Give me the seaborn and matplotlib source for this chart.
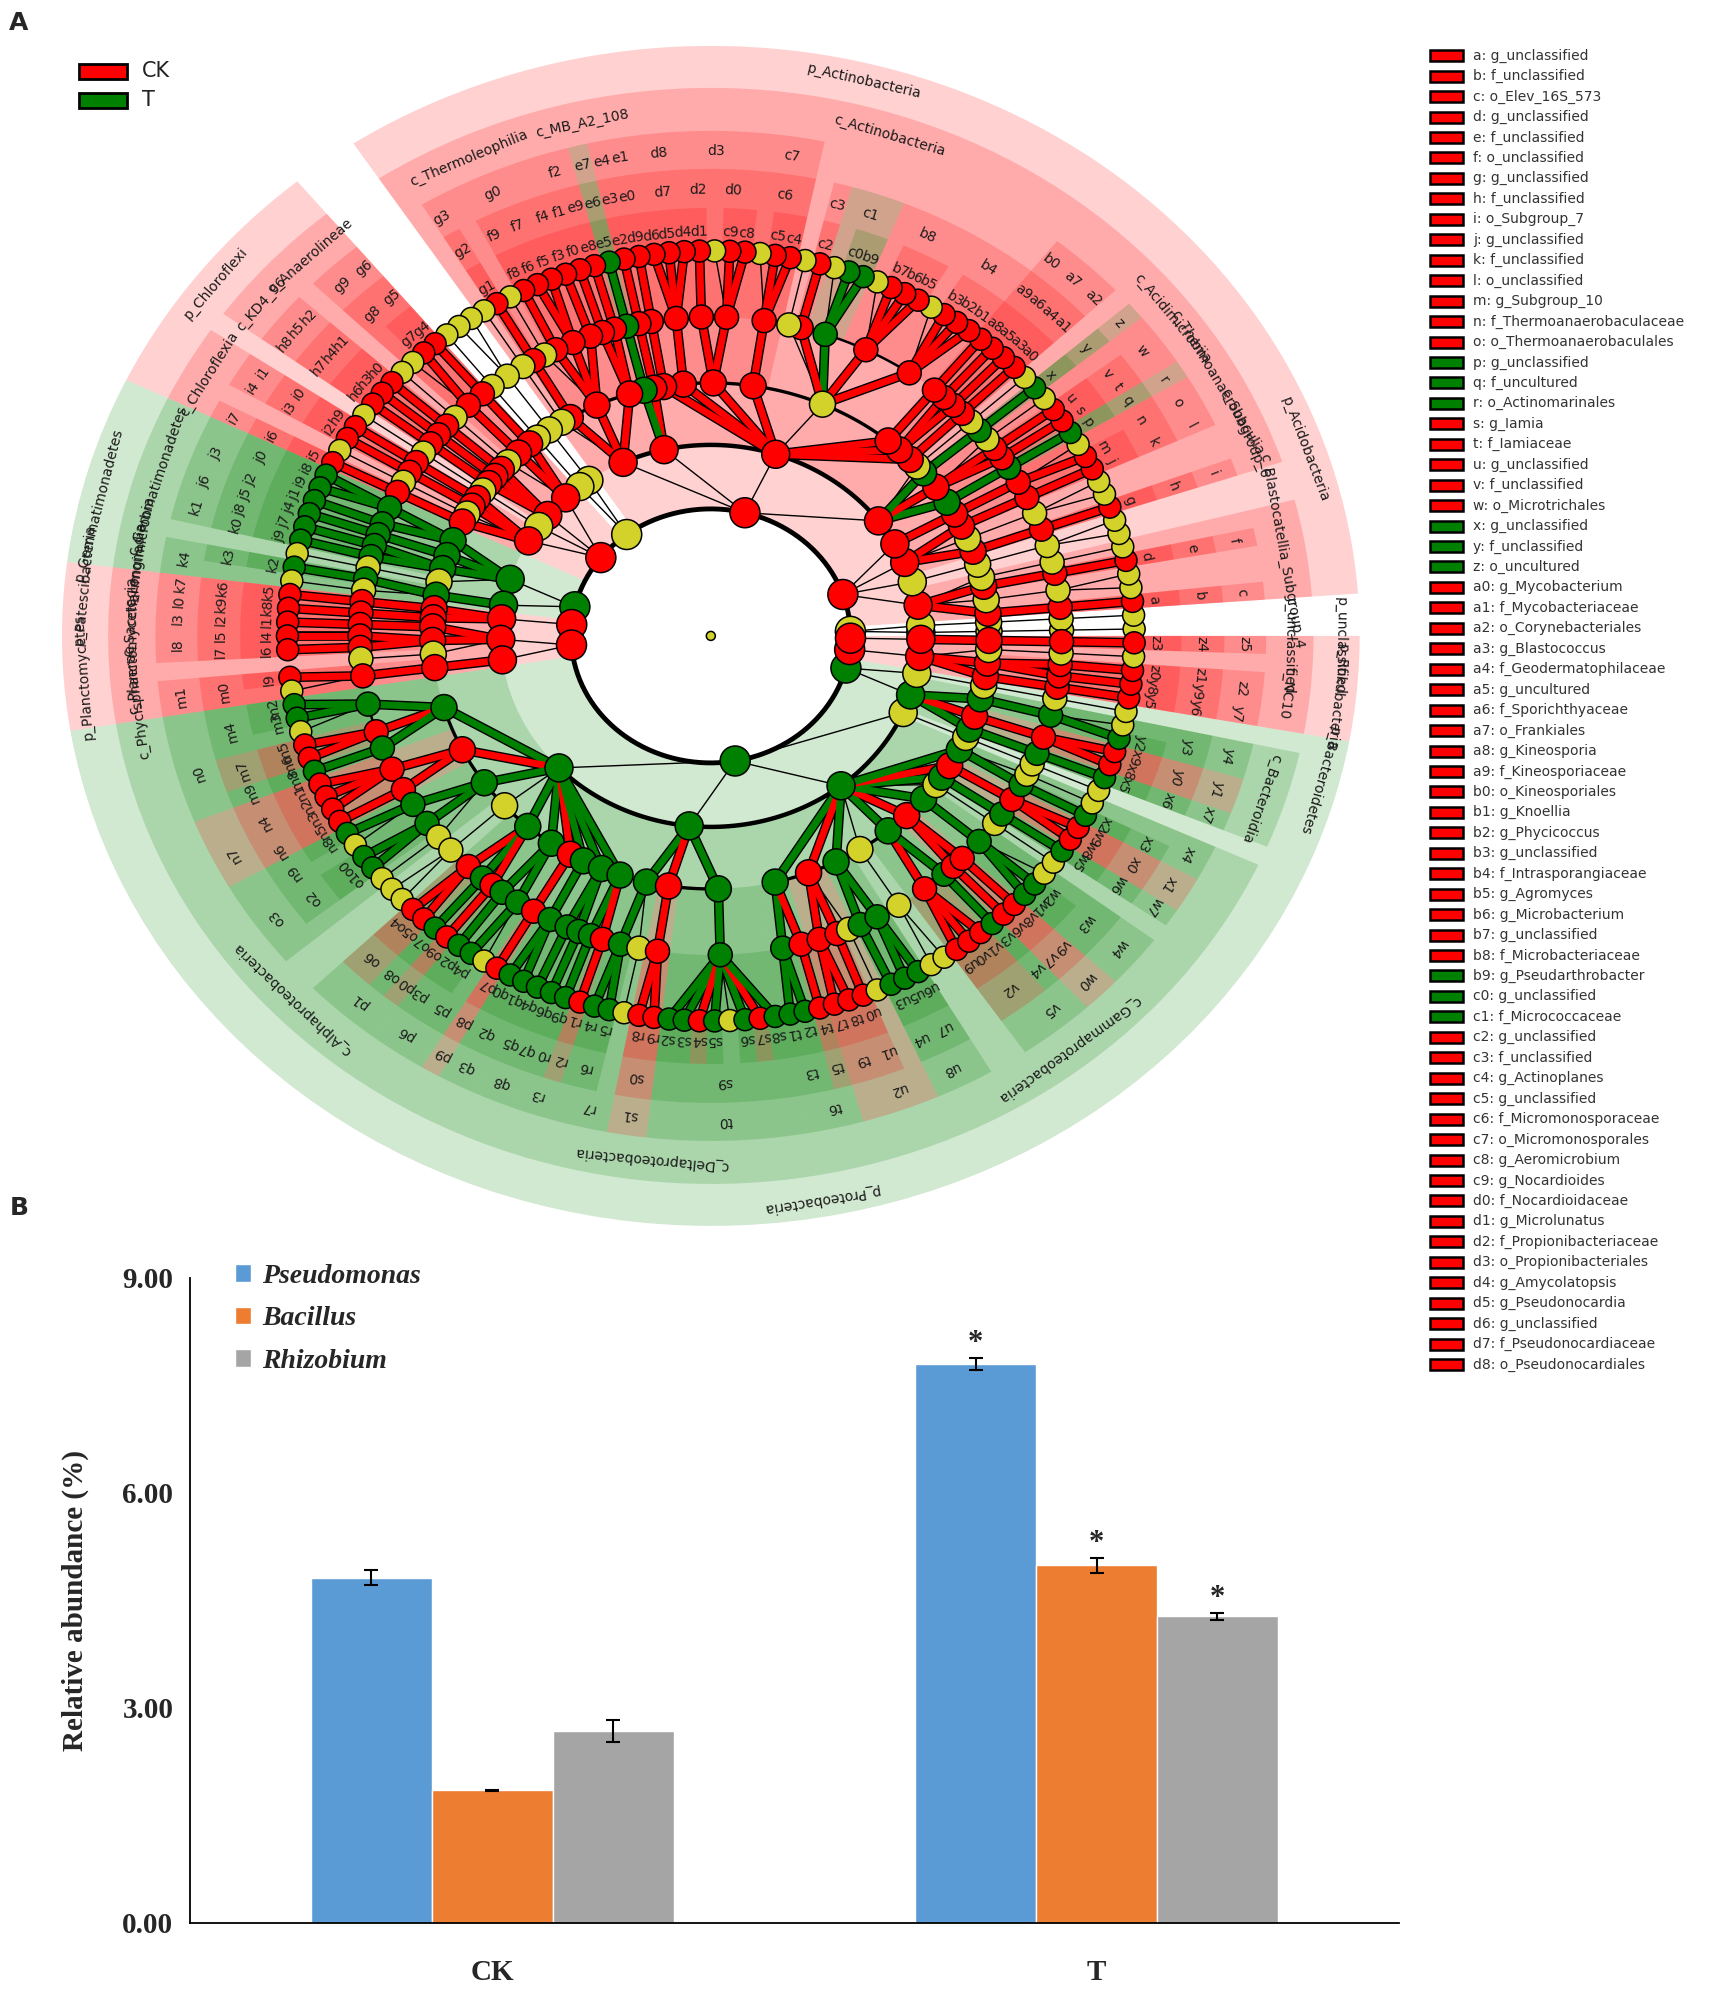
import re
import string
import numpy as np
import pandas as pd
import matplotlib
matplotlib.use("Agg")
import matplotlib.pyplot as plt
import matplotlib.patheffects as pe
from matplotlib.patches import Wedge, Rectangle, Patch
from matplotlib.collections import LineCollection
import seaborn as sns

# ---------------- panel A: LEfSe cladogram, one string per phylum ----------------
# R = enriched in CK, G = enriched in T, Y = not significant.  "S:name( children )"
P_FIRST = "Y( Y( Y( Y( Y ) ) ) Y( Y( Y( Y ) ) ) )"
P_ACIDOBACTERIA = """
R:p_Acidobacteria(
  R:c_Blastocatellia_Subgroup_4(
    R:o_Elev_16S_573( R:f_unclassified( R:g_unclassified ) )
    Y( Y( Y Y ) )
    R:o_unclassified( R:f_unclassified( R:g_unclassified ) )
    Y( Y( Y ) )
  )
  Y( Y( Y( Y Y ) ) )
  R:c_Subgroup_6(
    R:o_Subgroup_7( R:f_unclassified( R:g_unclassified ) )
    Y( Y( Y Y ) )
    R:o_unclassified( R:f_unclassified( R:g_unclassified ) )
  )
  R:c_Thermoanaerobaculia(
    R:o_Thermoanaerobaculales( R:f_Thermoanaerobaculaceae( R:g_Subgroup_10 Y ) )
  )
)"""
P_ACTINOBACTERIA = """
R:p_Actinobacteria(
  R:c_Acidimicrobiia(
    G:o_Actinomarinales( G:f_uncultured( G:g_unclassified ) )
    R:o_Microtrichales( R:f_Iamiaceae( R:g_Iamia ) R:f_unclassified( R:g_unclassified ) Y( Y ) )
    G:o_uncultured( G:f_unclassified( G:g_unclassified ) )
    Y( Y( Y ) )
  )
  R:c_Actinobacteria(
    R:o_Corynebacteriales( R:f_Mycobacteriaceae( R:g_Mycobacterium ) )
    R:o_Frankiales( R:f_Geodermatophilaceae( R:g_Blastococcus ) R:f_Sporichthyaceae( R:g_uncultured ) )
    R:o_Kineosporiales( R:f_Kineosporiaceae( R:g_Kineosporia ) )
    Y:o_Micrococcales(
      R:f_Intrasporangiaceae( R:g_Knoellia R:g_Phycicoccus R:g_unclassified Y )
      R:f_Microbacteriaceae( R:g_Agromyces R:g_Microbacterium R:g_unclassified Y )
      G:f_Micrococcaceae( G:g_Pseudarthrobacter G:g_unclassified Y )
      R:f_unclassified( R:g_unclassified )
      Y( Y )
    )
    R:o_Micromonosporales( R:f_Micromonosporaceae( R:g_Actinoplanes R:g_unclassified Y ) )
    R:o_Propionibacteriales( R:f_Nocardioidaceae( R:g_Aeromicrobium R:g_Nocardioides Y )
                             R:f_Propionibacteriaceae( R:g_Microlunatus ) )
    R:o_Pseudonocardiales( R:f_Pseudonocardiaceae( R:g_Amycolatopsis R:g_Pseudonocardia R:g_unclassified ) )
    R( R( R ) )
  )
  R:c_MB_A2_108( R( R( R ) ) G( G( G ) ) )
  R:c_Thermoleophilia(
    R( R( R ) R( R ) )
    R( R( R ) R( R R ) R( R ) Y( Y ) )
    R( R( R ) )
    Y( Y( Y ) )
  )
)"""
P_GAP = "Y( Y( Y( Y( Y Y ) ) ) Y( Y( Y( Y ) ) ) )"
P_CHLOROFLEXI = """
R:p_Chloroflexi(
  R:c_Anaerolineae( R( R( R ) ) R( R( R Y ) ) Y( Y( Y ) ) )
  R:c_KD4_96( R( R( R ) ) R( R( R ) ) R( R( R ) ) )
  Y( Y( Y( Y ) ) )
  R:c_Chloroflexia( R( R( R ) ) R( R( R ) ) Y( Y( Y ) ) R( R( R ) ) )
)"""
P_GEMMATIMONADETES = """
G:p_Gemmatimonadetes(
  G:c_Gemmatimonadetes( G( G( G G ) G( G ) ) G( G( G ) ) G( G( G ) G( G ) ) Y( Y( Y ) ) )
  G:c_Longimicrobia( G( G( G ) Y( Y ) ) )
)"""
P_PATESCIBACTERIA = "R:p_Patescibacteria( R:c_Saccharimonadia( R( R( R ) ) R( R( R ) ) ) )"
P_PLANCTOMYCETES = """
R:p_Planctomycetes(
  R:c_Planctomycetacia( R( R( R ) ) R( R( R ) R( R ) ) Y( Y ) )
  R:c_Phycisphaerae( R( R( R Y ) ) )
)"""
P_PROTEOBACTERIA = """
G:p_Proteobacteria(
  G:c_Alphaproteobacteria(
    G( G( G G Y ) R( R R ) G( G ) )
    R( R( R R R ) R( R ) )
    G( G( G Y ) G( G G ) Y( Y ) )
    Y( Y( Y Y ) )
    G( R( R R ) G( G ) R( R ) )
    G( G( G ) G( G Y ) )
    R( R( R ) )
    G( G( G G ) )
    G( G( G ) G( G ) )
    G( G( G ) R( R ) )
  )
  G:c_Deltaproteobacteria(
    G( G( G G ) Y( Y ) )
    R( R( R R ) )
    G( G( G G R G Y G R G ) )
  )
  G:c_Gammaproteobacteria(
    G( G( G G ) R( R ) )
    R( R( R R ) R( R ) Y( Y ) )
    G( G( G ) G( G G ) )
    Y( Y( Y Y ) )
    G( R( R R R ) G( G ) )
    R( R( R ) R( R ) )
    G( G( G G Y ) )
    Y( Y( Y ) )
    G( G( G ) )
    R( R( R R ) )
    G( G( G ) Y( Y ) )
  )
  Y( Y( Y( Y ) ) )
)"""
P_BACTEROIDETES = """
G:p_Bacteroidetes(
  G:c_Bacteroidia( G( G( G ) ) R( R( R R ) ) G( G( G Y ) ) )
  Y( Y( Y( Y ) ) )
)"""
P_ROKUBACTERIA = "R:p_Rokubacteria( R:c_NC10( R( R( R ) ) R( R( R ) R( R ) ) Y( Y( Y ) ) ) )"
P_UNCLASSIFIED = "R:p_unclassified( R:c_unclassified( R( R( R ) ) ) )"

PHYLA = [P_FIRST, P_ACIDOBACTERIA, P_ACTINOBACTERIA, P_GAP, P_CHLOROFLEXI, P_GEMMATIMONADETES,
         P_PATESCIBACTERIA, P_PLANCTOMYCETES, P_PROTEOBACTERIA, P_BACTEROIDETES,
         P_ROKUBACTERIA, P_UNCLASSIFIED]
GROUP_NAMES = ["CK", "T"]
N_LEGEND = 65

# ---------------- panel B data ----------------
GROUPS = ["CK", "T"]
GENERA = ["Pseudomonas", "Bacillus", "Rhizobium"]
CK_VALUES = [4.82, 1.85, 2.68]
T_VALUES = [7.80, 4.99, 4.28]
CK_ERR = [0.11, 0.01, 0.15]
T_ERR = [0.09, 0.10, 0.05]
CK_SIG = ["", "", ""]
T_SIG = ["*", "*", "*"]

# ---------------- style ----------------
STATUS_COLOR = {"R": "#FF0000", "G": "#008000", "Y": "#D2D22A"}
LEVEL_R = [0, 127, 191, 253, 319, 385]
SHADE_OUT = [0, 590, 548, 505, 467, 428]
LABEL_R = [0, 572, 526, 485, 446, 404]
NODE_PX = {0: 9, 1: 30, 2: 28, 3: 26, 4: 24, 5: 22}
ARC_LW = {1: 3.2, 2: 2.4, 3: 1.8, 4: 1.3}
SX = 1.1  # horizontal stretch of the cladogram in the figure
BAR_COLORS = ["#5B9BD5", "#ED7D31", "#A5A5A5"]
SERIF = "Liberation Serif"

TOKEN = re.compile(r"\(|\)|[RGY](?::[^\s()]+)?")


def parse(text):
    tokens = TOKEN.findall(text)
    pos = 0

    def read():
        nonlocal pos
        status, _, name = tokens[pos].partition(":")
        pos += 1
        kids = []
        if pos < len(tokens) and tokens[pos] == "(":
            pos += 1
            while tokens[pos] != ")":
                kids.append(read())
            pos += 1
        return {"status": status, "name": name, "kids": kids}

    out = []
    while pos < len(tokens):
        out.append(read())
    return out


root = {"status": "Y", "name": "", "kids": [n for t in PHYLA for n in parse(t)]}
leaves, allnodes = [], []


def walk(node, depth):
    node["depth"] = depth
    allnodes.append(node)
    if not node["kids"]:
        node["first"] = node["last"] = len(leaves)
        leaves.append(node)
    for k in node["kids"]:
        walk(k, depth + 1)
    if node["kids"]:
        node["first"] = node["kids"][0]["first"]
        node["last"] = node["kids"][-1]["last"]


walk(root, 0)
slot = 360.0 / len(leaves)


def set_theta(node):
    for k in node["kids"]:
        set_theta(k)
    if node["kids"]:
        node["theta"] = 0.5 * (node["kids"][0]["theta"] + node["kids"][-1]["theta"])
    else:
        node["theta"] = (node["first"] + 0.5) * slot


set_theta(root)

CODES = list(string.ascii_lowercase) + [c + str(d) for c in string.ascii_lowercase for d in range(10)]
coded = []


def assign(node):
    for k in node["kids"]:
        assign(k)
    if node["status"] != "Y" and node["depth"] >= 3:
        node["code"] = CODES[len(coded)]
        coded.append(node)


assign(root)


def xy(r, theta):
    t = np.deg2rad(theta)
    return r * np.cos(t), r * np.sin(t)


def pos(node):
    return xy(LEVEL_R[node["depth"]], node["theta"]) if node["depth"] else (0.0, 0.0)


def tangent_rot(theta):
    t = np.deg2rad(theta)
    return np.degrees(np.arctan2(-np.cos(t), SX * np.sin(t)))


# ---------------- figure ----------------
sns.set_style("white")
plt.rcParams["font.family"] = ["DejaVu Sans"]
fig = plt.figure(figsize=(17.12, 19.95), dpi=100)

ax_a = fig.add_axes([0.0362, 0.3855, 0.758, 0.5915])

# shading
for nd in allnodes:
    d = nd["depth"]
    if d == 0 or nd["status"] == "Y":
        continue
    a0, a1 = nd["first"] * slot, (nd["last"] + 1) * slot
    ax_a.add_patch(Wedge((0, 0), SHADE_OUT[d], a0, a1, width=SHADE_OUT[d] - LEVEL_R[d],
                         facecolor=STATUS_COLOR[nd["status"]], alpha=0.18, lw=0, zorder=0))

# branches
thin, thick, thick_col = [], [], []
for nd in allnodes:
    if nd["depth"] == 0:
        continue
    for k in nd["kids"]:
        seg = [pos(nd), pos(k)]
        if k["status"] != "Y" and k["depth"] >= 3:
            thick.append(seg)
            thick_col.append(STATUS_COLOR[k["status"]])
        else:
            thin.append(seg)
ax_a.add_collection(LineCollection(thin, colors="black", linewidths=1.0, zorder=2))
ax_a.add_collection(LineCollection(thick, colors=thick_col, linewidths=5.0, zorder=3,
                                   path_effects=[pe.Stroke(linewidth=7.0, foreground="black"), pe.Normal()]))

# level arcs
tt = np.linspace(0, 360, 400)
ax_a.plot(*xy(LEVEL_R[1], tt), color="black", lw=3.5, zorder=2)
for nd in allnodes:
    d = nd["depth"]
    if d == 0 or len(nd["kids"]) < 2:
        continue
    tt = np.linspace(nd["kids"][0]["theta"], nd["kids"][-1]["theta"], 80)
    ax_a.plot(*xy(LEVEL_R[d + 1], tt), color="black", lw=ARC_LW[d], zorder=2)

# nodes
node_df = pd.DataFrame({
    "x": [pos(n)[0] for n in allnodes],
    "y": [pos(n)[1] for n in allnodes],
    "status": [n["status"] for n in allnodes],
    "level": [n["depth"] for n in allnodes],
})
sns.scatterplot(data=node_df, x="x", y="y", hue="status", palette=STATUS_COLOR,
                size="level", sizes={k: (v * 0.72) ** 2 for k, v in NODE_PX.items()},
                edgecolor="black", linewidth=1.1, legend=False, ax=ax_a, zorder=5)

# labels
for nd in allnodes:
    d = nd["depth"]
    if d == 0 or nd["status"] == "Y":
        continue
    text = nd.get("code", nd["name"])
    x, y = xy(LABEL_R[d], nd["theta"])
    ax_a.text(x, y, text, rotation=tangent_rot(nd["theta"]), rotation_mode="anchor",
              ha="center", va="center", fontsize=10, color="#1a1a1a", zorder=6)

ax_a.set_xlim(-590, 590)
ax_a.set_ylim(-590, 590)
ax_a.axis("off")

# ---------------- panel B ----------------
ax_b = fig.add_axes([0.111, 0.0361, 0.706, 0.3233])
bar_df = pd.DataFrame({
    "group": np.repeat(GROUPS, len(GENERA)),
    "genus": GENERA * len(GROUPS),
    "value": CK_VALUES + T_VALUES,
})
sns.barplot(data=bar_df, x="group", y="value", hue="genus", order=GROUPS, hue_order=GENERA,
            palette=BAR_COLORS, width=0.6, errorbar=None, saturation=1, legend=False, ax=ax_b)
errs = [CK_ERR, T_ERR]
sigs = [CK_SIG, T_SIG]
vals = [CK_VALUES, T_VALUES]
bar_conts = list(ax_b.containers)
for gi, cont in enumerate(bar_conts):
    for j, bar in enumerate(cont.patches):
        xc = bar.get_x() + bar.get_width() / 2
        v, e = vals[j][gi], errs[j][gi]
        ax_b.errorbar(xc, v, yerr=e, fmt="none", ecolor="black", elinewidth=1.5,
                      capsize=5, capthick=1.5, zorder=4)
        if sigs[j][gi]:
            ax_b.text(xc, v + e, sigs[j][gi], ha="center", va="bottom",
                      fontsize=22, fontweight="bold", fontfamily=SERIF)

ax_b.set_xlim(-0.5, 1.5)
ax_b.set_ylim(0, 9)
ax_b.set_yticks([0, 3, 6, 9])
ax_b.set_yticklabels([f"{v:.2f}" for v in [0, 3, 6, 9]], fontfamily=SERIF,
                     fontweight="bold", fontsize=21)
ax_b.set_xticks([0, 1])
ax_b.set_xticklabels(GROUPS, fontfamily=SERIF, fontweight="bold", fontsize=21)
ax_b.set_xticks([-0.5, 0.5, 1.5], minor=True)
ax_b.tick_params(axis="x", which="major", length=0, pad=26)
ax_b.tick_params(axis="x", which="minor", direction="in", length=8, width=1.3)
ax_b.tick_params(axis="y", direction="in", length=7, width=1.3, pad=12)
ax_b.set_xlabel("")
ax_b.set_ylabel("Relative abundance (%)", fontfamily=SERIF, fontweight="bold",
                fontsize=21, labelpad=24)
sns.despine(ax=ax_b)
for s in ["left", "bottom"]:
    ax_b.spines[s].set_linewidth(1.3)
    ax_b.spines[s].set_color("black")

fig.legend(handles=[Patch(facecolor=c, label=g) for c, g in zip(BAR_COLORS, GENERA)],
           loc="upper left", bbox_to_anchor=(0.137, 0.3665), frameon=False,
           prop={"family": SERIF, "weight": "bold", "style": "italic", "size": 20},
           handlelength=0.6, handleheight=0.6, handletextpad=0.4, labelspacing=0.63,
           borderpad=0, borderaxespad=0)

# ---------------- overlay: legends and panel letters (pixel coordinates) ----------------
ax_o = fig.add_axes([0, 0, 1, 1], zorder=10)
ax_o.set_xlim(0, 1712)
ax_o.set_ylim(1995, 0)
ax_o.axis("off")

for i, (name, st) in enumerate(zip(GROUP_NAMES, ["R", "G"])):
    y = 71 + 29 * i
    ax_o.add_patch(Rectangle((79, y - 7.5), 48, 15, facecolor=STATUS_COLOR[st],
                             edgecolor="black", lw=2))
    ax_o.text(142, y, name, va="center", ha="left", fontsize=15, color="#222222")

for i, nd in enumerate(coded[:N_LEGEND]):
    y = 55.7 + 20.45 * i
    ax_o.add_patch(Rectangle((1430, y - 5.5), 33, 11, facecolor=STATUS_COLOR[nd["status"]],
                             edgecolor="black", lw=1.8))
    ax_o.text(1473, y, f"{nd['code']}: {nd['name']}", va="center", ha="left",
              fontsize=10, color="#333333")

ax_o.text(19, 23, "A", ha="center", va="center", fontsize=18, fontweight="bold")
ax_o.text(19, 1208, "B", ha="center", va="center", fontsize=18, fontweight="bold")

fig.savefig("out.png", dpi=100)
